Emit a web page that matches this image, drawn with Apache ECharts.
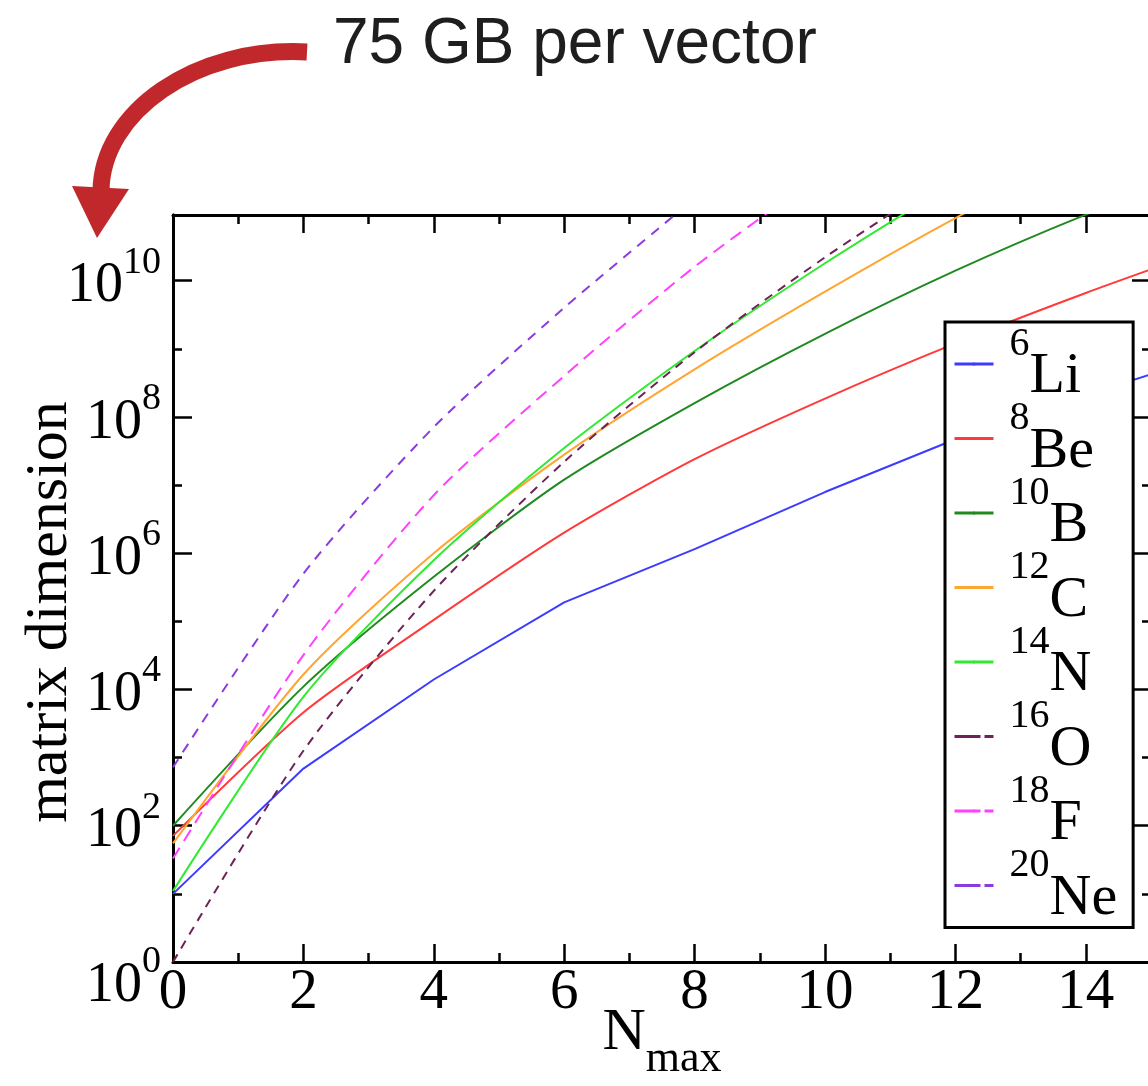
<!DOCTYPE html>
<html>
<head>
<meta charset="utf-8">
<title>Matrix dimension vs Nmax</title>
<script src="https://cdn.jsdelivr.net/npm/echarts@6/dist/echarts.min.js"></script>
<style>
  html, body { margin: 0; padding: 0; background: #fff; overflow: hidden; }
  /* the frame's right edge sits just past the visible page width */
  #chart { width: 1160px; height: 1086px; }
</style>
</head>
<body>
<div id="chart"></div>
<script>
// Nmax truncation values at which the M-scheme dimensions are plotted
const nmax = [0, 2, 4, 6, 8, 10, 12, 14, 16];

// Matrix dimension per nucleus, one entry per Nmax above
const li6  = [10, 690, 1.4e4, 1.9e5, 1.15e6, 7.9e6, 4.7e7, 2.1e8, 8.5e8];
const be8  = [71, 4.6e3, 1.05e5, 2.0e6, 2.4e7, 1.86e8, 1.2e9, 6.6e9, 3.2e10];
const b10  = [100, 1.1e4, 4.5e5, 1.2e7, 1.6e8, 1.66e9, 1.4e10, 9.3e10, 5e11];
const c12  = [55, 1.66e4, 1.0e6, 2.8e7, 5.0e8, 6.9e9, 8.3e10, 7.9e11];
const n14  = [11, 7.8e3, 7.9e5, 3.5e7, 9.3e8, 1.8e10, 2.8e11];
const o16  = [1, 1.26e3, 2.8e5, 2.2e7, 8.9e8, 2.2e10, 4e11];
const f18  = [33, 3.2e4, 7.1e6, 4e8, 1.6e10, 4e11];
const ne20 = [720, 5e5, 7.1e7, 4e9, 1.6e11];

// Legend labels: mass number and element symbol
const massNumbers = ['6', '8', '10', '12', '14', '16', '18', '20'];
const symbols     = ['Li', 'Be', 'B', 'C', 'N', 'O', 'F', 'Ne'];

// Axis tick labels
const xTickLabels = ['0', '2', '4', '6', '8', '10', '12', '14'];
const yTickExponents = ['0', '2', '4', '6', '8', '10'];

const seriesValues = [li6, be8, b10, c12, n14, o16, f18, ne20];
const colors = ['#3c3cff', '#ff3a3a', '#208a20', '#ffa530', '#30ea30', '#6e2258', '#ff40ff', '#8a3ce0'];
const dashes = [null, null, null, null, null, [9, 7], [13, 8], [10, 8]];
const legendDashes = [null, null, null, null, null, [26, 4], [26, 4], [26, 4]];
const smoothing = [false, 0.25, 0.25, 0.25, 0.25, 0.25, 0.25, 0.25];

const SERIF = '"Liberation Serif", "Times New Roman", serif';
const SANS = '"Liberation Sans", Arial, sans-serif';

const chart = echarts.init(document.getElementById('chart'), null, { renderer: 'canvas' });

const names = massNumbers.map((m, i) => m + symbols[i]);

const series = seriesValues.map((vals, i) => ({
  name: names[i],
  type: 'line',
  xAxisIndex: 0,
  yAxisIndex: 0,
  data: vals.map((v, k) => [nmax[k], v]),
  symbol: 'none',
  showSymbol: false,
  clip: true,
  smooth: smoothing[i],
  lineStyle: { color: colors[i], width: 2, type: dashes[i] || 'solid' },
  itemStyle: { color: colors[i] },
  z: 2 + i
}));

const axisLineStyle = { color: '#000', width: 3 };
const tickStyle = { color: '#000', width: 2.5 };

// superscript label pieces share one box height so their alignment is fixed by padding
const T = 19;
function yAxisDef(position, step, tickLen, withLabels) {
  return {
    type: 'log',
    logBase: 10,
    position: position,
    min: 1,
    max: 9.2e10,
    interval: step,
    axisLine: { show: true, onZero: false, lineStyle: axisLineStyle },
    axisTick: { show: true, inside: true, length: tickLen, lineStyle: tickStyle },
    splitLine: { show: false },
    minorTick: { show: false },
    axisLabel: withLabels ? {
      show: true,
      margin: 12,
      formatter: function (v) {
        const e = Math.log10(v);
        const r = Math.round(e);
        if (Math.abs(e - r) > 1e-6) return '';
        const s = String(r);
        if (yTickExponents.indexOf(s) < 0) return '';
        if (r === 0) return '{b0|10}{s0|' + s + '}';
        return '{b|10}{s|' + s + '}';
      },
      rich: {
        b:  { fontFamily: SERIF, fontSize: 56, color: '#000', lineHeight: 40, padding: [T, 0, 7, 0] },
        s:  { fontFamily: SERIF, fontSize: 38, color: '#000', lineHeight: 30, padding: [0, 0, T + 17, 0] },
        b0: { fontFamily: SERIF, fontSize: 56, color: '#000', lineHeight: 40, padding: [T + 30, 0, 0, 0] },
        s0: { fontFamily: SERIF, fontSize: 38, color: '#000', lineHeight: 30, padding: [30, 0, T + 10, 0] }
      }
    } : { show: false }
  };
}

function xAxisDef(position, withLabels) {
  return {
    type: 'value',
    position: position,
    min: 0,
    max: 15,
    interval: 2,
    axisLine: { show: true, onZero: false, lineStyle: axisLineStyle },
    axisTick: { show: true, inside: true, length: 18, lineStyle: tickStyle },
    minorTick: { show: true, splitNumber: 2, length: 9, lineStyle: tickStyle },
    splitLine: { show: false },
    minorSplitLine: { show: false },
    axisLabel: withLabels ? {
      show: true,
      margin: 3,
      fontFamily: SERIF,
      fontSize: 57,
      color: '#000',
      formatter: function (v) {
        const s = String(v);
        return xTickLabels.indexOf(s) >= 0 ? s : '';
      }
    } : { show: false }
  };
}

const option = {
  backgroundColor: '#fff',
  animation: false,
  grid: { left: 173, top: 215, width: 978, height: 747, containLabel: false },
  xAxis: [xAxisDef('bottom', true), xAxisDef('top', false)],
  yAxis: [
    yAxisDef('left', 1, 9, false),
    yAxisDef('left', 2, 19, true),
    yAxisDef('right', 1, 9, false),
    yAxisDef('right', 2, 19, false)
  ],
  legend: {
    show: true,
    orient: 'vertical',
    left: 945,
    top: 322,
    padding: [0, 16, 0, 8],
    itemWidth: 39,
    itemHeight: 4,
    itemGap: -9.5,
    selectedMode: false,
    backgroundColor: '#fff',
    borderColor: '#000',
    borderWidth: 3,
    borderRadius: 0,
    data: names.map((n, i) => ({
      name: n,
      lineStyle: legendDashes[i] ? { type: legendDashes[i], width: 3 } : { width: 3 }
    })),
    formatter: function (name) {
      const i = names.indexOf(name);
      return '{m|' + massNumbers[i] + '}{e|' + symbols[i] + '}';
    },
    textStyle: {
      rich: {
        m: { fontFamily: SERIF, fontSize: 40, color: '#000', lineHeight: 30, padding: [0, 0, 40, 11] },
        e: { fontFamily: SERIF, fontSize: 58, color: '#000', lineHeight: 44, padding: [26, 0, 0, 0] }
      }
    }
  },
  graphic: [
    {
      type: 'text',
      x: 333, y: 45,
      style: { text: '75 GB per vector', font: '64px ' + SANS, fill: '#1e1e1e', textVerticalAlign: 'middle', textAlign: 'left' },
      z: 10
    },
    {
      type: 'bezierCurve',
      shape: { x1: 307, y1: 52, cpx1: 196, cpy1: 46, cpx2: 101, cpy2: 112, x2: 101, y2: 192 },
      style: { stroke: '#c1282c', lineWidth: 17, fill: null, lineCap: 'butt' },
      z: 10
    },
    {
      type: 'polygon',
      shape: { points: [[72, 186], [129, 189], [97, 238]] },
      style: { fill: '#c1282c' },
      z: 10
    },
    {
      type: 'text',
      x: 50, y: 612,
      rotation: Math.PI / 2,
      style: { text: 'matrix dimension', font: '60px ' + SERIF, fill: '#000', textAlign: 'center', textVerticalAlign: 'middle' },
      z: 10
    },
    {
      type: 'text',
      x: 662, y: 1014,
      style: {
        text: '{n|N}{s|max}',
        textAlign: 'center',
        textVerticalAlign: 'top',
        rich: {
          n: { fontFamily: SERIF, fontSize: 60, fill: '#000', lineHeight: 56, padding: [0, 0, 18, 0] },
          s: { fontFamily: SERIF, fontSize: 44, fill: '#000', lineHeight: 40, padding: [34, 0, 0, 0] }
        }
      },
      z: 10
    }
  ],
  series: series
};

chart.setOption(option);
</script>
</body>
</html>
